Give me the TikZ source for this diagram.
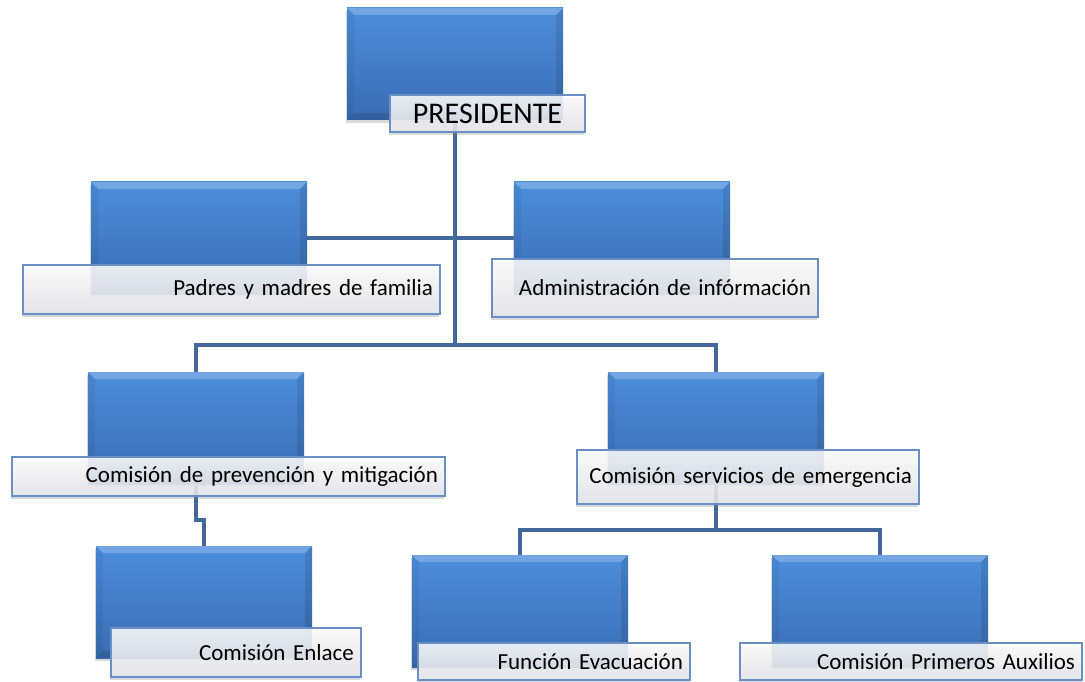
\documentclass[tikz,border=0pt]{standalone}
\usepackage{fontspec}
\setmainfont{Carlito}
\usetikzlibrary{shadows,calc}
\definecolor{boxtop}{HTML}{4C8EDC}
\definecolor{boxbot}{HTML}{3A6CB2}
\definecolor{connblue}{HTML}{43699C}
\definecolor{lblborder}{HTML}{6A8FC4}
\definecolor{lblbot}{HTML}{E4E7EC}
\pgfdeclarelayer{bg}
\pgfsetlayers{bg,main}
\tikzset{
  conn/.style={draw=connblue, line width=3.6pt},
  bluebox/.style={minimum width=216pt, minimum height=112pt, inner sep=0pt,
    top color=boxtop, bottom color=boxbot,
    drop shadow={shadow xshift=-1.5pt, shadow yshift=-3pt, opacity=0.3},
    path picture={
      \fill[white, opacity=0.22] (path picture bounding box.north west) -- (path picture bounding box.north east)
        -- ([xshift=-7pt,yshift=-7pt]path picture bounding box.north east) -- ([xshift=7pt,yshift=-7pt]path picture bounding box.north west) -- cycle;
      \fill[black, opacity=0.05] (path picture bounding box.north west) -- ([xshift=7pt,yshift=-7pt]path picture bounding box.north west)
        -- ([xshift=7pt,yshift=7pt]path picture bounding box.south west) -- (path picture bounding box.south west) -- cycle;
      \fill[black, opacity=0.10] (path picture bounding box.north east) -- ([xshift=-7pt,yshift=-7pt]path picture bounding box.north east)
        -- ([xshift=-7pt,yshift=7pt]path picture bounding box.south east) -- (path picture bounding box.south east) -- cycle;
      \fill[black, opacity=0.12] (path picture bounding box.south west) -- ([xshift=7pt,yshift=7pt]path picture bounding box.south west)
        -- ([xshift=-7pt,yshift=7pt]path picture bounding box.south east) -- (path picture bounding box.south east) -- cycle;
    }},
  lbl/.style={draw=lblborder, line width=1.2pt, top color=white, bottom color=lblbot,
    fill opacity=0.86, text opacity=1, inner xsep=7pt, inner ysep=0pt, align=right,
    font=\fontsize{23}{27}\selectfont,
    drop shadow={shadow xshift=-1pt, shadow yshift=-3pt, opacity=0.3}},
}
\begin{document}
\begin{tikzpicture}[x=1pt,y=-1pt]
\useasboundingbox (0,0) rectangle (1085,682);
% blue boxes
\node[bluebox] (pres) at (455,64) {};
\node[bluebox] (padres) at (199,238) {};
\node[bluebox] (admin) at (622,238) {};
\node[bluebox] (prev) at (196,428) {};
\node[bluebox] (serv) at (716,428) {};
\node[bluebox] (enlace) at (204,602) {};
\node[bluebox] (funcion) at (520,611) {};
\node[bluebox] (primeros) at (880,611) {};
% labels
\node[lbl, align=center, font=\fontsize{30}{34}\selectfont, minimum width=195pt, minimum height=37pt, text width=181pt] (presl) at (487.5,113.5) {PRESIDENTE};
\node[lbl, minimum width=417pt, minimum height=49pt, text width=403pt] (padresl) at (231.5,289.5) {Padres y madres de familia};
\node[lbl, minimum width=326pt, minimum height=58pt, text width=312pt] (adminl) at (655,288) {Administración de infórmación};
\node[lbl, minimum width=433pt, minimum height=39pt, text width=419pt] (prevl) at (228.5,476.5) {Comisión de prevención y mitigación};
\node[lbl, minimum width=342pt, minimum height=54pt, text width=328pt] (servl) at (748,477) {Comisión servicios de emergencia};
\node[lbl, minimum width=250pt, minimum height=49pt, text width=236pt] (enlacel) at (236,652.5) {Comisión Enlace};
\node[lbl, minimum width=272pt, minimum height=37pt, text width=258pt] (funcionl) at (554,661.5) {Función Evacuación};
\node[lbl, minimum width=342pt, minimum height=37pt, text width=328pt] (primerosl) at (911,661.5) {Comisión Primeros Auxilios};
% connectors
\coordinate (bus1) at (455,345);
\coordinate (jog) at (204,520);
\coordinate (bus3) at (716,530);
\begin{pgfonlayer}{bg}
\draw[conn] (pres.center) -- (bus1);
\draw[conn] (padres.center) -- (admin.center);
\draw[conn] (prev.center) |- (bus1) -| (serv.center);
\draw[conn] (prev.center) |- (jog) -- (enlace.center);
\draw[conn] (serv.center) -- (bus3);
\draw[conn] (funcion.center) |- (bus3) -| (primeros.center);
\end{pgfonlayer}
\end{tikzpicture}
\end{document}
